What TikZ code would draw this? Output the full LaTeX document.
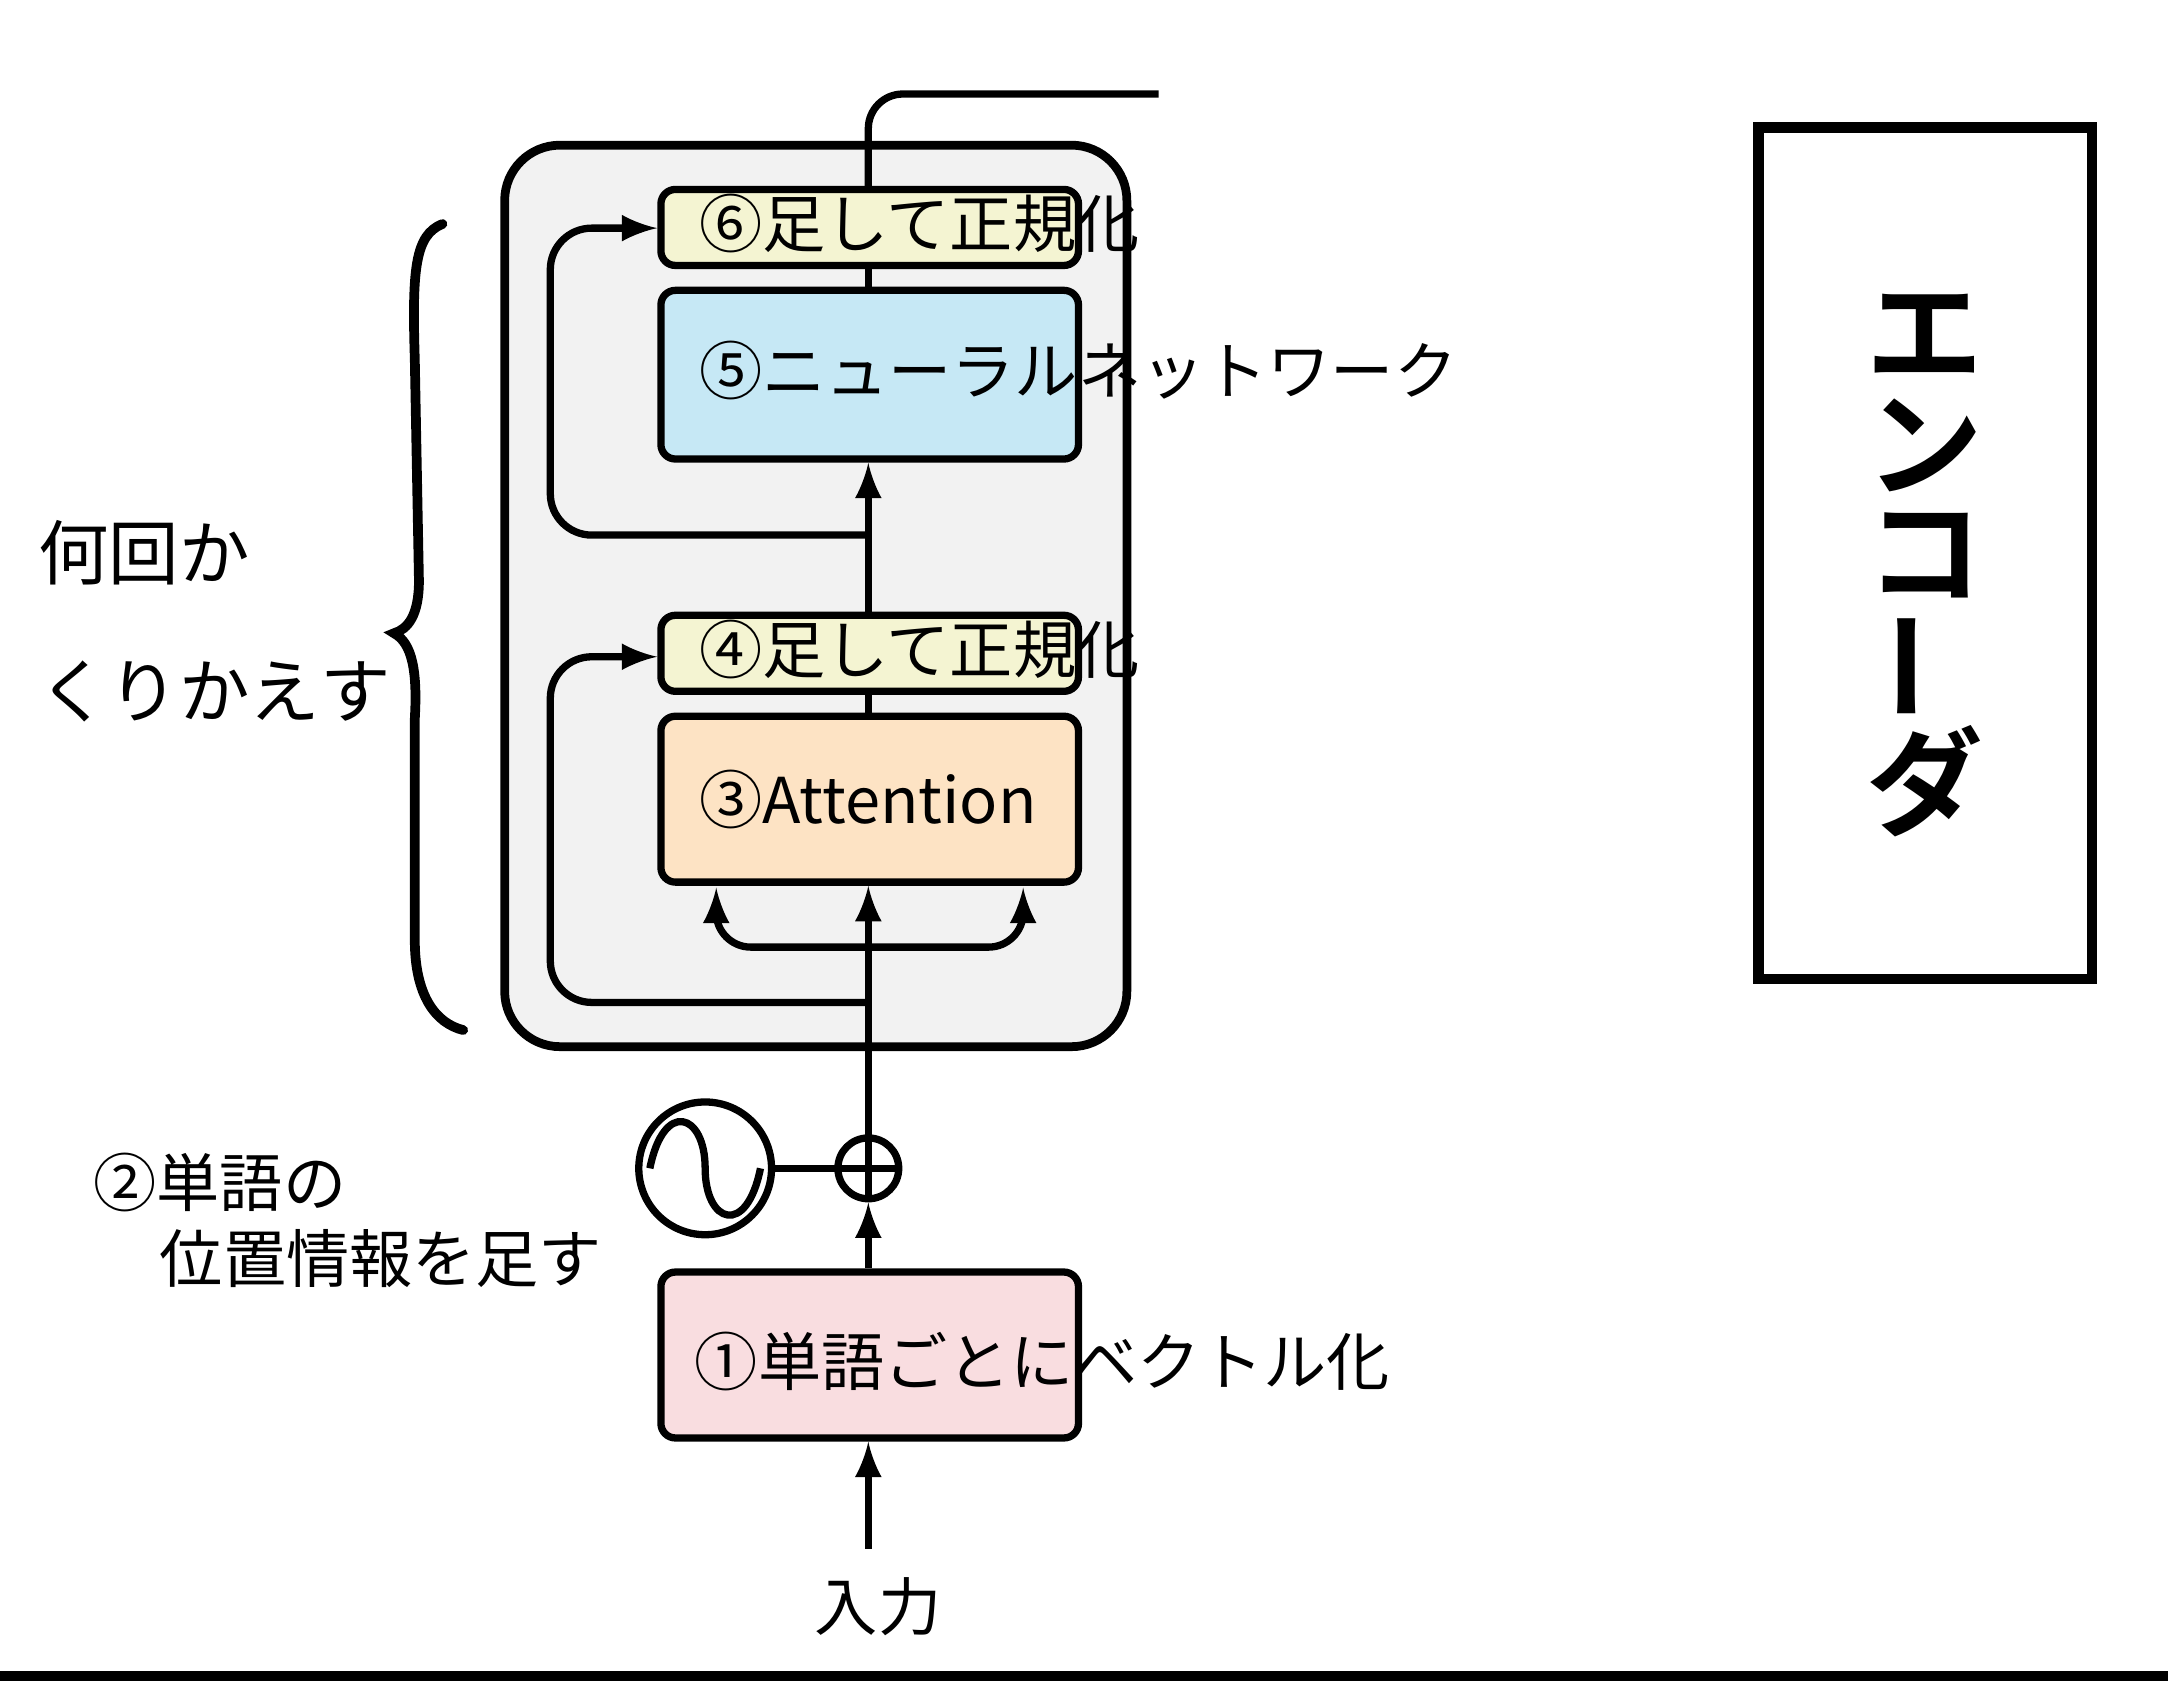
\documentclass[tikz,border=0pt]{standalone}
\usepackage{fontspec}
\setmainfont{Noto Sans CJK JP}
\newfontfamily\jpbold{Noto Sans CJK JP}[BoldFont={* Bold}]
\usetikzlibrary{positioning}
\definecolor{panelgrey}{HTML}{F2F2F2}
\definecolor{normyellow}{HTML}{F4F4D2}
\definecolor{nnblue}{HTML}{C6E8F5}
\definecolor{attnorange}{HTML}{FDE3C4}
\definecolor{embpink}{HTML}{F9DDE0}
\tikzset{
	block/.style  = {draw, line width=1.5pt, rounded corners=3pt, minimum width=3.02cm, inner sep=0pt},
	norm/.style   = {block, fill=normyellow, minimum height=0.55cm},
	label/.style  = {anchor=west, font=\fontsize{13}{15}\selectfont, inner sep=0pt},
	sum/.style    = {draw, line width=1.5pt, circle, fill=white, minimum size=0.44cm, inner sep=0pt},
	hidden/.style = {coordinate},
	hand/.style   = {anchor=west, font=\fontsize{14.5}{17}\selectfont, inner sep=0pt},
	title/.style  = {font=\jpbold\bfseries\fontsize{24}{26}\selectfont, inner sep=0pt},
}
\begin{document}
\begin{tikzpicture}[>=latex, line width=1.5pt, y=-1cm]
		\useasboundingbox (0,0) rectangle (15.68,12.16);
		% panel of the repeated layer
		\draw[line width=1.8pt, fill=panelgrey, rounded corners=0.4cm] (3.65,1.05) rectangle (8.15,7.57);
		
		% blocks
		\node[norm , minimum height=0.55cm] (norm2) at (6.29,1.645) {};
		\node[block, fill=nnblue, minimum height=1.22cm] (ffn) at (6.29,2.71) {};
		\node[norm , minimum height=0.55cm] (norm1) at (6.29,4.725) {};
		\node[block, fill=attnorange, minimum height=1.2cm] (attn) at (6.29,5.78) {};
		\node[block, fill=embpink, minimum height=1.2cm] (embed) at (6.29,9.80) {};
		\node[sum] (sum) at (6.28,8.45) {};
		\node[draw, line width=1.5pt, circle, fill=white, minimum size=0.96cm] (wave) at (5.10,8.45) {};
		
		% helper points
		\node[hidden] (input) at (6.28,11.20) {};
		\node[hidden] (skipA) at (6.28,7.25) {};
		\node[hidden] (skipB) at (6.28,3.87) {};
		\node[hidden] (split) at (6.28,6.85) {};
		\node[hidden] (output) at (8.38,0.68) {};
		
		% connect everything together
		\draw[->] (input) -- (embed.south -| input);
		\draw[->] (embed.north -| input) -- (sum);
		\draw (sum.north) -- (skipA) -- (split);
		\draw[->] (split) -- (attn.south -| split);
		\draw (attn.north -| split) -- (norm1.south -| split);
		\draw[->] (norm1.north -| split) -- (ffn.south -| split);
		\draw (ffn.north -| split) -- (norm2.south -| split);
		\draw[rounded corners=0.25cm] (norm2.north -| split) -- (6.28,0.68) -- (output);
		\draw (wave) -- (sum.west);
		\draw (sum.north) -- (sum.south) (sum.west) -- (sum.east);
		\draw (4.70,8.45) .. controls (4.80,7.95) and (5.10,8.05) .. (5.10,8.45) .. controls (5.10,8.85) and (5.40,8.95) .. (5.50,8.45);
		
		\draw[->, rounded corners=0.3cm] (skipA) -| (3.98,4.75) -- (norm1.west |- 0,4.75);
		\draw[->, rounded corners=0.3cm] (skipB) -| (3.98,1.65) -- (norm2.west |- 0,1.65);
		\draw[->, rounded corners=0.25cm] (split) -| (5.18,6.42);
		\draw[->, rounded corners=0.25cm] (split) -| (7.40,6.42);
		
		% texts
		\node[label] at (5.03,1.62) {⑥足して正規化};
		\node[label] at (5.03,2.68) {⑤ニューラルネットワーク};
		\node[label] at (5.03,4.70) {④足して正規化};
		\node[label] at (5.03,5.78) {③Attention};
		\node[label] at (5.00,9.85) {①単語ごとにベクトル化};
		\node[label, anchor=north] at (6.35,11.38) {入力};
		\node[label] at (0.65,8.55) {②単語の};
		\node[label] at (1.13,9.10) {位置情報を足す};
		
		% repeat brace
		\draw[line width=2pt, line cap=round] (3.20,1.62) .. controls (3.00,1.70) and (2.98,1.95) .. (3.00,2.60)
			-- (3.03,4.20) .. controls (3.03,4.45) and (2.95,4.55) .. (2.85,4.58)
			.. controls (2.98,4.65) and (3.02,4.85) .. (3.00,5.20)
			-- (3.00,6.80) .. controls (3.00,7.20) and (3.15,7.40) .. (3.35,7.45);
		\node[hand] (times) at (0.25,4.00) {何回か};
		\node[hand] (again) at (0.25,5.00) {くりかえす};
		
		% encoder box
		\draw[line width=2.2pt] (12.72,0.92) rectangle (15.13,7.08);
		\node[title] (e1) at (13.92,2.42) {エ};
		\node[title] (e2) at (13.92,3.22) {ン};
		\node[title] (e3) at (13.92,4.02) {コ};
		\node[title, rotate=90] (e4) at (13.92,4.82) {ー};
		\node[title] (e5) at (13.92,5.65) {ダ};
		
		% bottom rule
		\draw[line width=2pt] (0,12.12) -- (15.68,12.12);
	\end{tikzpicture}
\end{document}
